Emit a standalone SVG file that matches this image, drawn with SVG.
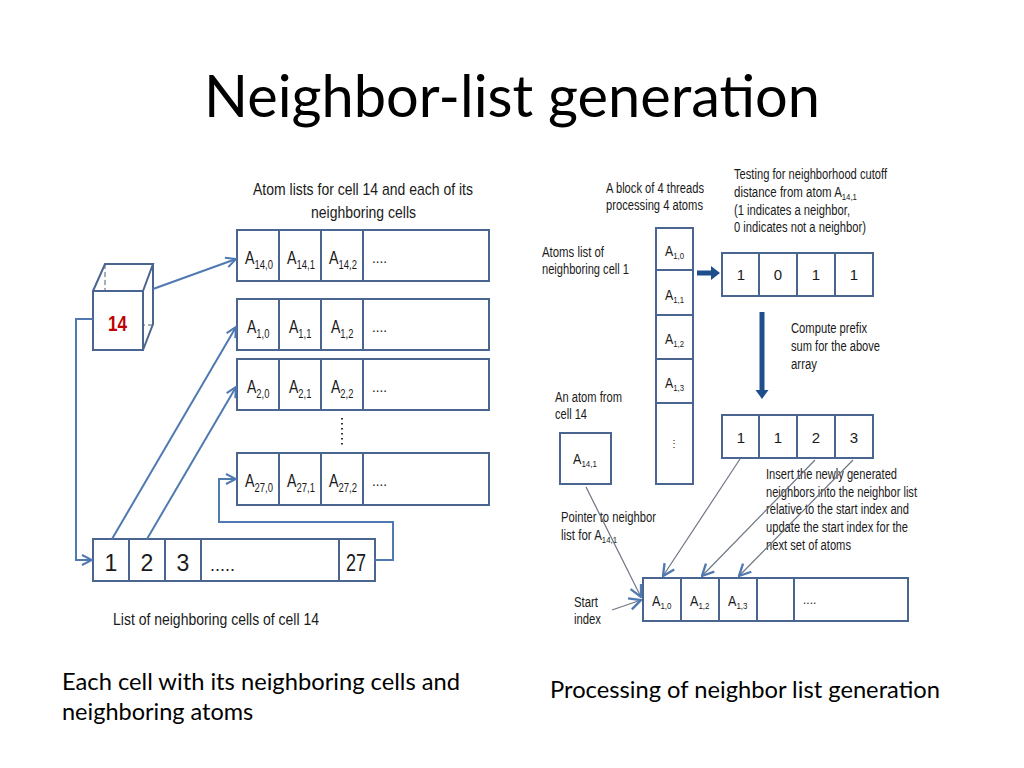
<svg xmlns="http://www.w3.org/2000/svg" width="1024" height="768" viewBox="0 0 1024 768">
<style>
.t{font-family:"Liberation Sans",Arial,sans-serif;fill:#1a1a1a}
.c{font-family:Lato,"Liberation Sans",sans-serif;fill:#000}
.box{fill:#fff;stroke:#4a6690;stroke-width:2}
.ln{fill:none;stroke:#4a6690;stroke-width:2}
.con{fill:none;stroke:#4f79b0;stroke-width:2}
.thin{fill:none;stroke:#6f7784;stroke-width:1.2}
.dash{fill:none;stroke:#8a95a5;stroke-width:1.5;stroke-dasharray:5,3}
.cell{font-size:18px}
.sub{font-size:12px}
.lab{font-size:17px}
.rl{font-size:14px}
.rc{font-size:15px}
.rs{font-size:9.5px}
.thk{fill:#1f4e8c}
</style>
<defs>
<marker id="ah" viewBox="0 0 12 12" refX="11" refY="6" markerWidth="12" markerHeight="12" markerUnits="userSpaceOnUse" orient="auto">
<path d="M1,1 L11,6 L1,11" fill="none" stroke="#4f79b0" stroke-width="2"/>
</marker>
<marker id="ah2" viewBox="0 0 12 12" refX="11" refY="6" markerWidth="14" markerHeight="14" markerUnits="userSpaceOnUse" orient="auto">
<path d="M1,1 L11,6 L1,11" fill="none" stroke="#4f79b0" stroke-width="2"/>
</marker>
</defs>

<text x="512" y="117" class="c" font-size="58" text-anchor="middle" textLength="616" lengthAdjust="spacingAndGlyphs">Neighbor-list generation</text>

<g id="left-title">
<text x="253" y="195" class="t lab" textLength="220" lengthAdjust="spacingAndGlyphs">Atom lists for cell 14 and each of its</text>
<text x="311" y="218" class="t lab" textLength="105" lengthAdjust="spacingAndGlyphs">neighboring cells</text>
</g>

<g id="cube">
<path class="dash" d="M105,264 V325 H153 M93,350 L105,325"/>
<rect class="box" x="93" y="291" width="50" height="59" fill="none"/>
<path class="ln" d="M93,291 L105,264 H153 L143,291 M153,264 V324 L143,350"/>
<text x="108" y="331" font-family="Liberation Sans,sans-serif" font-weight="bold" font-size="22" fill="#c00000" textLength="19" lengthAdjust="spacingAndGlyphs">14</text>
</g>

<g id="row14">
<rect class="box" x="237" y="230" width="252" height="51"/>
<path class="ln" d="M279,230V281M321,230V281M363,230V281"/>
<text transform="translate(245,264) scale(0.79,1)" class="t cell">A<tspan class="sub" dy="5">14,0</tspan></text>
<text transform="translate(287,264) scale(0.79,1)" class="t cell">A<tspan class="sub" dy="5">14,1</tspan></text>
<text transform="translate(329,264) scale(0.79,1)" class="t cell">A<tspan class="sub" dy="5">14,2</tspan></text>
<text x="372" y="263" class="t" font-size="14" textLength="15" lengthAdjust="spacingAndGlyphs">....</text>
</g>

<g id="row1">
<rect class="box" x="237" y="299" width="252" height="51"/>
<path class="ln" d="M279,299V350M321,299V350M363,299V350"/>
<text transform="translate(247,333) scale(0.78,1)" class="t cell">A<tspan class="sub" dy="5">1,0</tspan></text>
<text transform="translate(289,333) scale(0.78,1)" class="t cell">A<tspan class="sub" dy="5">1,1</tspan></text>
<text transform="translate(331,333) scale(0.78,1)" class="t cell">A<tspan class="sub" dy="5">1,2</tspan></text>
<text x="372" y="332" class="t" font-size="14" textLength="15" lengthAdjust="spacingAndGlyphs">....</text>
</g>

<g id="row2">
<rect class="box" x="237" y="359" width="252" height="51"/>
<path class="ln" d="M279,359V410M321,359V410M363,359V410"/>
<text transform="translate(247,393) scale(0.78,1)" class="t cell">A<tspan class="sub" dy="5">2,0</tspan></text>
<text transform="translate(289,393) scale(0.78,1)" class="t cell">A<tspan class="sub" dy="5">2,1</tspan></text>
<text transform="translate(331,393) scale(0.78,1)" class="t cell">A<tspan class="sub" dy="5">2,2</tspan></text>
<text x="372" y="392" class="t" font-size="14" textLength="15" lengthAdjust="spacingAndGlyphs">....</text>
</g>

<g id="vdots">
<path d="M342,418V446" stroke="#333" stroke-width="2" stroke-dasharray="1.5,3.5" fill="none"/>
</g>

<g id="row27">
<rect class="box" x="237" y="453" width="252" height="52"/>
<path class="ln" d="M279,453V505M321,453V505M363,453V505"/>
<text transform="translate(245,487) scale(0.79,1)" class="t cell">A<tspan class="sub" dy="5">27,0</tspan></text>
<text transform="translate(287,487) scale(0.79,1)" class="t cell">A<tspan class="sub" dy="5">27,1</tspan></text>
<text transform="translate(329,487) scale(0.79,1)" class="t cell">A<tspan class="sub" dy="5">27,2</tspan></text>
<text x="372" y="486" class="t" font-size="14" textLength="15" lengthAdjust="spacingAndGlyphs">....</text>
</g>

<g id="cell-list">
<rect class="box" x="93" y="539" width="282" height="42"/>
<path class="ln" d="M129,539V581M165,539V581M201,539V581M339,539V581"/>
<text x="111" y="571" class="t" font-size="23" text-anchor="middle">1</text>
<text x="147" y="571" class="t" font-size="23" text-anchor="middle">2</text>
<text x="183" y="571" class="t" font-size="23" text-anchor="middle">3</text>
<text x="210" y="571" class="t" font-size="18" textLength="25" lengthAdjust="spacingAndGlyphs">.....</text>
<text x="346" y="571" class="t" font-size="23" textLength="20" lengthAdjust="spacingAndGlyphs">27</text>
<text x="113" y="625" class="t lab" textLength="206" lengthAdjust="spacingAndGlyphs">List of neighboring cells of cell 14</text>
</g>

<g id="left-connectors">
<path class="con" d="M153,289 L236,259" marker-end="url(#ah)"/>
<path class="con" d="M93,319 H76 V560 H92" marker-end="url(#ah)"/>
<path class="con" d="M112,539 L236,327" marker-end="url(#ah)"/>
<path class="con" d="M147,539 L236,387" marker-end="url(#ah)"/>
<path class="con" d="M375,560 H393 V522 H219 V479 H236" marker-end="url(#ah)"/>
</g>

<g id="captions">
<text x="62" y="690" class="c" font-size="23.5" textLength="398" lengthAdjust="spacingAndGlyphs">Each cell with its neighboring cells and</text>
<text x="62" y="720" class="c" font-size="23.5">neighboring atoms</text>
<text x="550" y="698" class="c" font-size="23.5" textLength="390" lengthAdjust="spacingAndGlyphs">Processing of neighbor list generation</text>
</g>

<g id="right-labels">
<text x="606" y="193" class="t rl" textLength="98" lengthAdjust="spacingAndGlyphs">A block of 4 threads</text>
<text x="606" y="210" class="t rl" textLength="97" lengthAdjust="spacingAndGlyphs">processing 4 atoms</text>
<text x="734" y="179" class="t rl" textLength="153" lengthAdjust="spacingAndGlyphs">Testing for neighborhood cutoff</text>
<text transform="translate(734,197) scale(0.82,1)" class="t rl">distance from atom A<tspan class="rs" dy="3">14,1</tspan></text>
<text x="734" y="215" class="t rl" textLength="116" lengthAdjust="spacingAndGlyphs">(1 indicates a neighbor,</text>
<text x="734" y="232" class="t rl" textLength="132" lengthAdjust="spacingAndGlyphs">0 indicates not a neighbor)</text>
<text x="542" y="257" class="t rl" textLength="62" lengthAdjust="spacingAndGlyphs">Atoms list of</text>
<text x="542" y="274" class="t rl" textLength="87" lengthAdjust="spacingAndGlyphs">neighboring cell 1</text>
<text x="791" y="333" class="t rl" textLength="76" lengthAdjust="spacingAndGlyphs">Compute prefix</text>
<text x="791" y="351" class="t rl" textLength="89" lengthAdjust="spacingAndGlyphs">sum for the above</text>
<text x="791" y="369" class="t rl" textLength="26" lengthAdjust="spacingAndGlyphs">array</text>
<text x="555" y="402" class="t rl" textLength="67" lengthAdjust="spacingAndGlyphs">An atom from</text>
<text x="555" y="419" class="t rl" textLength="32" lengthAdjust="spacingAndGlyphs">cell 14</text>
<text x="561" y="522" class="t rl" textLength="95" lengthAdjust="spacingAndGlyphs">Pointer to neighbor</text>
<text transform="translate(561,540) scale(0.82,1)" class="t rl">list for A<tspan class="rs" dy="3">14,1</tspan></text>
<text x="766" y="479" class="t rl" textLength="131" lengthAdjust="spacingAndGlyphs">Insert the newly generated</text>
<text x="766" y="497" class="t rl" textLength="151" lengthAdjust="spacingAndGlyphs">neighbors into the neighbor list</text>
<text x="766" y="514" class="t rl" textLength="143" lengthAdjust="spacingAndGlyphs">relative to the start index and</text>
<text x="766" y="532" class="t rl" textLength="142" lengthAdjust="spacingAndGlyphs">update the start index for the</text>
<text x="766" y="550" class="t rl" textLength="85" lengthAdjust="spacingAndGlyphs">next set of atoms</text>
<text x="574" y="607" class="t rl" textLength="24" lengthAdjust="spacingAndGlyphs">Start</text>
<text x="574" y="624" class="t rl" textLength="27" lengthAdjust="spacingAndGlyphs">index</text>
</g>

<g id="atom-column">
<rect class="box" x="656" y="228" width="37" height="256"/>
<path class="ln" d="M656,270H693M656,315H693M656,359H693M656,403H693"/>
<text transform="translate(665,256) scale(0.82,1)" class="t rc">A<tspan class="rs" dy="3">1,0</tspan></text>
<text transform="translate(665,300) scale(0.82,1)" class="t rc">A<tspan class="rs" dy="3">1,1</tspan></text>
<text transform="translate(665,344) scale(0.82,1)" class="t rc">A<tspan class="rs" dy="3">1,2</tspan></text>
<text transform="translate(665,388) scale(0.82,1)" class="t rc">A<tspan class="rs" dy="3">1,3</tspan></text>
<text x="674" y="447" class="t" font-size="10" text-anchor="middle">⋮</text>
</g>

<g id="test-array">
<rect class="box" x="722" y="253" width="151" height="43"/>
<path class="ln" d="M759,253V296M797,253V296M835,253V296"/>
<text x="741" y="280" class="t rc" text-anchor="middle">1</text>
<text x="778" y="280" class="t rc" text-anchor="middle">0</text>
<text x="816" y="280" class="t rc" text-anchor="middle">1</text>
<text x="854" y="280" class="t rc" text-anchor="middle">1</text>
</g>

<g id="prefix-array">
<rect class="box" x="722" y="415" width="151" height="43"/>
<path class="ln" d="M759,415V458M797,415V458M835,415V458"/>
<text x="741" y="443" class="t rc" text-anchor="middle">1</text>
<text x="778" y="443" class="t rc" text-anchor="middle">1</text>
<text x="816" y="443" class="t rc" text-anchor="middle">2</text>
<text x="854" y="443" class="t rc" text-anchor="middle">3</text>
</g>

<g id="atom-a14">
<rect class="box" x="560" y="433" width="51" height="51"/>
<text transform="translate(573,464) scale(0.84,1)" class="t rc">A<tspan class="rs" dy="3">14,1</tspan></text>
</g>

<g id="neighbor-list">
<rect class="box" x="643" y="578" width="265" height="43"/>
<path class="ln" d="M681,578V621M719,578V621M757,578V621M794,578V621"/>
<text transform="translate(652,606) scale(0.84,1)" class="t rc">A<tspan class="rs" dy="3">1,0</tspan></text>
<text transform="translate(690,606) scale(0.84,1)" class="t rc">A<tspan class="rs" dy="3">1,2</tspan></text>
<text transform="translate(728,606) scale(0.84,1)" class="t rc">A<tspan class="rs" dy="3">1,3</tspan></text>
<text x="803" y="604" class="t" font-size="12">....</text>
</g>

<g id="right-connectors">
<path class="thk" d="M697,270.5 H711 V266 L720,273 L711,280 V275.5 H697 Z"/>
<path class="thk" d="M759.5,312 H764.5 V390 H768.5 L762,399 L755.5,390 H759.5 Z"/>
<path class="thin" d="M586,487 L641,597" marker-end="url(#ah2)"/>
<path class="thin" d="M612,610 L641,600" marker-end="url(#ah2)"/>
<path class="thin" d="M740,459 L663,576" marker-end="url(#ah2)"/>
<path class="thin" d="M815,460 L702,576" marker-end="url(#ah2)"/>
<path class="thin" d="M853,460 L739,576" marker-end="url(#ah2)"/>
</g>
</svg>
